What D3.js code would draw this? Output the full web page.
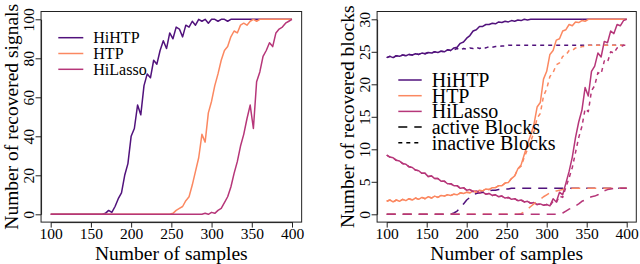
<!DOCTYPE html>
<html>
<head>
<meta charset="utf-8">
<script src="https://cdn.jsdelivr.net/npm/d3@7"></script>
<style>
  body { margin: 0; background: #fff; }
  svg { display: block; font-family: "Liberation Serif", "Times New Roman", serif; }
  .box { fill: none; stroke: #222; stroke-width: 1; }
  .axis path, .axis line { stroke: #222; stroke-width: 1; }
  .axis text { font-size: 15.5px; fill: #000; font-family: "Liberation Serif", serif; }
</style>
</head>
<body>
<svg id="chart" width="640" height="264"></svg>
<script>
// sample sizes (x axis), every 4th sample
const samples = d3.range(100, 401, 4);
const xTicks = [100, 150, 200, 250, 300, 350, 400];

// left panel: number of recovered signals (out of 100)
const sigHiHTP = [0,0,0,0,0,0,0,0,0,0,0,0,0,0,0,0,0,
  0.5,2,1,4,8,11,20,26,40,44,56,51,66,72,70,79,77,84,89,85,93,90,96,95,91,97,96,99,97,100,99,100,98,100,100,99,100,100,99,100,
  100,100,100,100,100,100,100,100,100,100,100,100,100,100,100,100,100,100,100];
const sigHTP = [0,0,0,0,0,0,0,0,0,0,0,0,0,0,0,0,0,0,0,0,0,0,0,0,0,0,0,0,0,0,0,0,0,0,0,0,0,0,
  0.5,2,3,4,7,9,15,22,29,41,37,52,58,66,72,79,84,86,91,94,93,97,98,97,99,100,99,
  100,100,100,100,100,100,100,100,100,100,100];
const sigHiLasso = [0,0,0,0,0,0,0,0,0,0,0,0,0,0,0,0,0,0,0,0,0,0,0,0,0,0,0,0,0,0,0,0,0,0,0,0,0,0,0,0,0,0,0,0,0,0,0,0,
  0.5,0,1,0.5,2,3,6,9,14,21,27,35,41,49,56,44,68,73,81,84,88,86,93,95,96,98,99,100];

// right panel: number of recovered blocks (out of 30)
const blkHiHTP = [24.1,24.3,24.1,24.4,24.3,24.5,24.4,24.6,24.5,24.7,24.6,24.8,24.7,24.9,24.8,25.0,24.9,25.1,25.0,25.3,25.2,
  25.6,25.7,26.3,26.5,27.1,27.5,28.2,28.4,28.9,28.9,29.2,29.2,29.4,29.3,29.6,29.5,29.7,29.6,29.8,29.7,29.9,29.8,30,29.9,
  30,30,30,30,30,30,30,30,30,30,30,30,30,30,30,30,30,30,30,30,30,30,30,30,30,30,30,30,30,30,30];
const blkHiHTPActive = [0,0,0,0,0,0,0,0,0,0,0,0,0,0,0,0,0,0,0,0,0,
  0.2,0.5,1.0,1.6,2.2,2.6,3.0,3.2,3.3,3.4,3.5,3.6,3.7,3.7,3.8,3.8,3.9,3.9,
  4,4,4,4,4,4,4,4,4,4,4,4,4,4,4,4,4,4,4,4,4,4,4,4,4,4,4,4,4,4,4,4,4,4,4,4,4,4];
const blkHiHTPInactive = [24.1,24.3,24.1,24.4,24.3,24.5,24.4,24.6,24.5,24.7,24.6,24.8,24.7,24.9,24.8,25.0,24.9,25.1,25.0,25.3,25.2,
  25.3,25.5,25.3,25.5,25.4,25.6,25.5,25.7,25.5,25.7,25.6,25.8,25.7,25.8,25.8,25.9,25.9,
  26,26,26,26,26,26,26,26,26,26,26,26,26,26,26,26,26,26,26,26,26,26,26,26,26,26,26,26,26,26,26,26,26,26,26,26,26,26];

const blkHTP = [2.0,2.2,1.9,2.2,2.0,2.3,2.1,2.4,2.2,2.5,2.3,2.6,2.4,2.7,2.5,2.8,2.6,2.9,2.8,3.0,2.9,3.1,3.0,3.3,3.2,3.4,3.3,3.6,3.4,3.7,3.6,3.9,3.8,4.1,4.1,4.4,4.4,4.8,4.9,5.5,5.9,7.0,
  7.6,9.2,10.8,12.2,13.8,16.5,17.2,20.8,22.0,24.6,25.2,26.8,27.0,28.2,28.4,29.2,29.0,29.6,29.5,29.8,29.7,30,
  30,30,30,30,30,30,30,30,30,30,30,30];
const blkHTPActive = [0,0,0,0,0,0,0,0,0,0,0,0,0,0,0,0,0,0,0,0,0,0,0,0,0,0,0,0,0,0,0,0,0,0,0,0,0,0,0,0,0,0,
  0.1,0.4,0.8,1.2,1.6,2.0,2.3,2.7,3.0,3.3,3.5,3.6,3.7,3.8,3.9,3.9,
  4,4,4,4,4,4,4,4,4,4,4,4,4,4,4,4,4,4];
const blkHTPInactive = [2.0,2.2,1.9,2.2,2.0,2.3,2.1,2.4,2.2,2.5,2.3,2.6,2.4,2.7,2.5,2.8,2.6,2.9,2.8,3.0,2.9,3.1,3.0,3.3,3.2,3.4,3.3,3.6,3.4,3.7,3.6,3.9,3.8,4.1,4.1,4.4,4.4,4.8,4.9,5.5,5.9,7.0,
  7.4,8.8,10.0,11.2,12.6,14.8,15.5,18.2,19.3,21.2,21.8,23.0,23.3,24.3,24.5,25.2,25.2,25.6,25.6,25.8,25.8,26,
  26,26,26,26,26,26,26,26,26,26,26,26];

const blkHiLasso = [9.1,8.8,8.7,8.3,8.2,7.8,7.7,7.3,7.2,6.8,6.7,6.3,6.3,5.8,5.9,5.5,5.5,5.1,5.1,4.7,4.7,4.4,4.4,4.0,4.1,3.7,3.8,3.5,3.6,3.3,3.4,3.1,3.2,2.9,3.0,2.7,2.8,2.5,2.6,2.3,2.4,2.1,2.2,1.9,2.0,1.7,1.8,1.5,1.6,1.4,1.5,
  1.3,2.4,1.9,3.4,3.0,4.8,6.6,8.8,11.8,14.2,16.0,19.5,18.2,22.0,22.8,24.8,24.2,26.6,26.4,28.2,27.8,29.2,29.0,29.8,30];
const blkHiLassoActive = [0,0,0,0,0,0,0,0,0,0,0,0,0,0,0,0,0,0,0,0,0,0,0,0,0,0,0,0,0,0,0,0,0,0,0,0,0,0,0,0,0,0,0,0,0,0,0,0,0,0,0,0,0,0,0,
  0.2,0.5,0.8,1.0,1.3,1.6,2.0,2.2,2.5,2.7,2.8,3.0,3.4,3.6,3.8,3.9,4.0,4.0,4.0,4.0,4.0];
const blkHiLassoInactive = [9.1,8.8,8.7,8.3,8.2,7.8,7.7,7.3,7.2,6.8,6.7,6.3,6.3,5.8,5.9,5.5,5.5,5.1,5.1,4.7,4.7,4.4,4.4,4.0,4.1,3.7,3.8,3.5,3.6,3.3,3.4,3.1,3.2,2.9,3.0,2.7,2.8,2.5,2.6,2.3,2.4,2.1,2.2,1.9,2.0,1.7,1.8,1.5,1.6,1.4,1.5,
  1.3,2.0,1.8,2.8,2.6,4.2,5.6,7.2,9.5,11.8,13.5,16.2,15.8,19.0,19.8,21.8,21.6,23.6,23.4,25.0,24.8,25.6,25.7,26.0,26.0];

const colors = { HiHTP: '#51127C', HTP: '#FB8861', HiLasso: '#B63679' };
const DASHED = '9,7';
const DOTTED = '4,4';

const svg = d3.select('#chart');

function drawPanel(p) {
    const x = d3.scaleLinear().domain([100, 400]).range(p.xRange);
    const y = d3.scaleLinear().domain([0, p.yMax]).range([214.3, 19.3]);
    const pad = p.yMax * 0.04;
    const x0 = x(88), x1 = x(412), yTop = y(p.yMax + pad), yBot = y(-pad);
    const g = svg.append('g');

    const line = d3.line()
        .x((d, i) => x(samples[i]))
        .y(d => y(d));

    p.series.forEach(s => {
        g.append('path')
            .datum(s.values)
            .attr('d', line)
            .attr('fill', 'none')
            .attr('stroke', colors[s.name])
            .attr('stroke-width', 1.5)
            .attr('stroke-linejoin', 'round')
            .attr('stroke-dasharray', s.dash || null);
    });

    g.append('rect')
        .attr('class', 'box')
        .attr('x', x0).attr('y', yTop)
        .attr('width', x1 - x0).attr('height', yBot - yTop);

    const xAxis = g.append('g')
        .attr('class', 'axis')
        .attr('transform', `translate(0,${yBot})`)
        .call(d3.axisBottom(x).tickValues(xTicks).tickSize(5.5).tickSizeOuter(0));
    xAxis.selectAll('text').attr('y', 239 - yBot).attr('dy', 0);

    const yAxis = g.append('g')
        .attr('class', 'axis')
        .attr('transform', `translate(${x0},0)`)
        .call(d3.axisLeft(y).tickValues(p.yTicks).tickSize(5.5).tickSizeOuter(0));
    yAxis.selectAll('text')
        .attr('x', 0).attr('y', 0).attr('dy', 0)
        .attr('text-anchor', 'middle')
        .attr('transform', 'translate(-7,0) rotate(-90)');

    g.append('text')
        .attr('x', (x0 + x1) / 2).attr('y', 260)
        .attr('text-anchor', 'middle')
        .style('font-size', '19.5px')
        .text('Number of samples');

    g.append('text')
        .attr('transform', `translate(${x0 - 23.5},${(yTop + yBot) / 2}) rotate(-90)`)
        .attr('text-anchor', 'middle')
        .style('font-size', '19.5px')
        .text(p.yTitle);

    // legend, no frame
    const lg = g.append('g').attr('class', 'legend');
    p.legend.items.forEach((it, i) => {
        const ly = p.legend.y + i * p.legend.step;
        lg.append('line')
            .attr('x1', p.legend.x).attr('x2', p.legend.x + p.legend.len)
            .attr('y1', ly).attr('y2', ly)
            .attr('stroke', it.color)
            .attr('stroke-width', 1.5)
            .attr('stroke-dasharray', it.dash || null);
        lg.append('text')
            .attr('x', p.legend.x + p.legend.len + 10)
            .attr('y', ly + p.legend.size * 0.34)
            .style('font-size', p.legend.size + 'px')
            .text(it.label);
    });
}

drawPanel({
    xRange: [50.7, 292],
    yMax: 100,
    yTicks: [0, 20, 40, 60, 80, 100],
    yTitle: 'Number of recovered signals',
    series: [
        { name: 'HiHTP', values: sigHiHTP },
        { name: 'HTP', values: sigHTP },
        { name: 'HiLasso', values: sigHiLasso }
    ],
    legend: {
        x: 58.3, y: 37.7, step: 15.8, len: 25, size: 16,
        items: [
            { label: 'HiHTP', color: colors.HiHTP },
            { label: 'HTP', color: colors.HTP },
            { label: 'HiLasso', color: colors.HiLasso }
        ]
    }
});

drawPanel({
    xRange: [386.7, 626.7],
    yMax: 30,
    yTicks: [0, 5, 10, 15, 20, 25, 30],
    yTitle: 'Number of recovered blocks',
    series: [
        { name: 'HiHTP', values: blkHiHTP },
        { name: 'HTP', values: blkHTP },
        { name: 'HiLasso', values: blkHiLasso },
        { name: 'HiHTP', values: blkHiHTPActive, dash: DASHED },
        { name: 'HTP', values: blkHTPActive, dash: DASHED },
        { name: 'HiLasso', values: blkHiLassoActive, dash: DASHED },
        { name: 'HiHTP', values: blkHiHTPInactive, dash: DOTTED },
        { name: 'HTP', values: blkHTPInactive, dash: DOTTED },
        { name: 'HiLasso', values: blkHiLassoInactive, dash: DOTTED }
    ],
    legend: {
        x: 398.3, y: 80, step: 15.7, len: 23.4, size: 20,
        items: [
            { label: 'HiHTP', color: colors.HiHTP },
            { label: 'HTP', color: colors.HTP },
            { label: 'HiLasso', color: colors.HiLasso },
            { label: 'active Blocks', color: '#000', dash: DASHED },
            { label: 'inactive Blocks', color: '#000', dash: DOTTED }
        ]
    }
});
</script>
</body>
</html>
